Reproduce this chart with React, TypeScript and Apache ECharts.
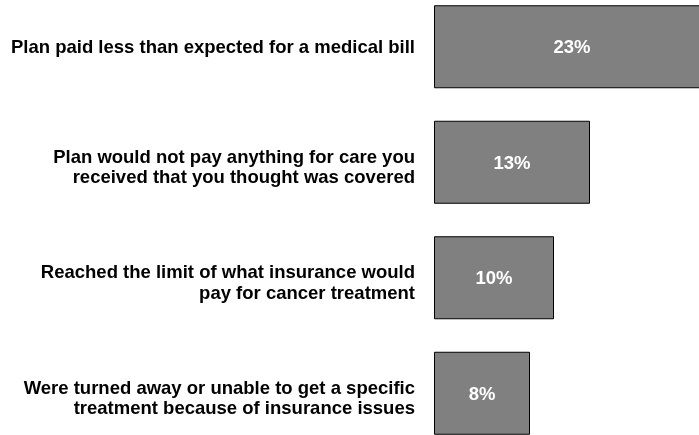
import React, { useEffect, useRef } from "react";
import * as echarts from "echarts";

const categories = [
  "Plan paid less than expected for a medical bill",
  "Plan would not pay anything for care you\nreceived that you thought was covered",
  "Reached the limit of what insurance would\npay for cancer treatment",
  "Were turned away or unable to get a specific\ntreatment because of insurance issues",
];
const values = [23, 13, 10, 8];

const font = {
  fontFamily: "Liberation Sans, Arial, sans-serif",
  fontWeight: "bold",
  fontSize: 18.5,
  color: "#000",
  align: "right",
};

export default function App() {
  const ref = useRef<HTMLDivElement>(null);
  useEffect(() => {
    if (!ref.current) return;
    const chart = echarts.init(ref.current, null, { renderer: "svg" });
    chart.setOption({
      animation: false,
      grid: {
        left: 434,
        right: -11,
        top: -11,
        bottom: -16,
        containLabel: false,
        outerBoundsMode: "none",
      },
      xAxis: {
        type: "value",
        min: 0,
        max: 23,
        show: false,
      },
      yAxis: {
        type: "category",
        data: categories,
        inverse: true,
        axisLine: { show: false },
        axisTick: { show: false },
        splitLine: { show: false },
        axisLabel: {
          margin: 19,
          ...font,
          lineHeight: 22,
          formatter: (v: string) => {
            const parts = v.split("\n");
            if (parts.length < 2) return v;
            return `{a|${parts[0]}}\n{b|${parts[1]}}`;
          },
          rich: {
            a: { ...font, lineHeight: 29, verticalAlign: "bottom" },
            b: { ...font, lineHeight: 22 },
          },
        },
      },
      series: [
        {
          type: "bar",
          data: values,
          barWidth: 83,
          itemStyle: {
            color: "#808080",
            borderColor: "#000",
            borderWidth: 1,
          },
          label: {
            show: true,
            position: "inside",
            formatter: "{c}%",
            color: "#fff",
            fontFamily: "Liberation Sans, Arial, sans-serif",
            fontWeight: "bold",
            fontSize: 18.5,
          },
        },
      ],
    });
    return () => chart.dispose();
  }, []);
  return (
    <div
      ref={ref}
      style={{ position: "fixed", left: 0, top: 0, width: 699, height: 435 }}
    />
  );
}
